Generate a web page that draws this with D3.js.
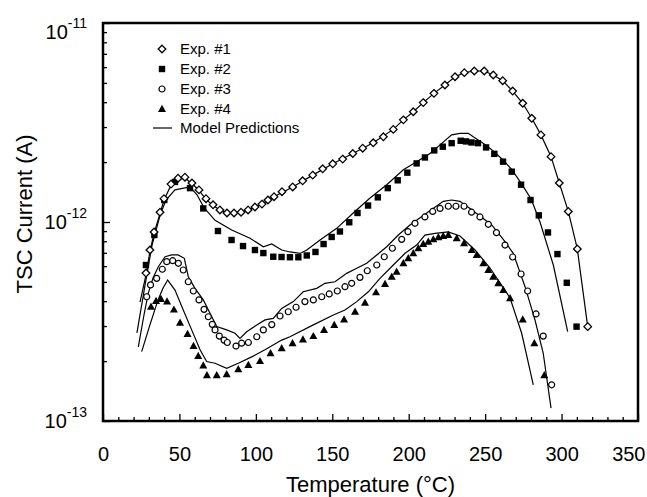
<!DOCTYPE html>
<html><head><meta charset="utf-8">
<script src="https://cdn.jsdelivr.net/npm/d3@7"></script>
<style>
body{margin:0;background:#fff}
svg{display:block}
text{font-family:"Liberation Sans",Arial,Helvetica,sans-serif;fill:#000}
</style>
</head><body>
<svg id="chart" width="647" height="497"></svg>
<script>
// ---- DATA (temperature in °C, current in pA = 1e-12 A) ----
const exp1T = [28.1,30.7,33.4,37.3,39.9,44.5,49.1,53.6,58.2,62.8,67.4,72.0,76.5,81.1,85.7,90.3,94.9,99.4,104.0,107.9,111.9,117.1,124.1,130.6,137.2,143.7,150.3,156.8,163.4,169.9,176.8,183.4,189.9,196.5,203.0,209.5,216.5,223.7,230.3,236.4,242.9,249.4,255.3,261.5,268.0,274.6,280.5,286.5,293.1,298.5,304.4,310.3,317.1];
const exp1I = [0.554,0.723,0.891,1.12,1.31,1.55,1.66,1.68,1.57,1.45,1.31,1.22,1.15,1.11,1.11,1.12,1.15,1.19,1.23,1.29,1.34,1.42,1.50,1.61,1.72,1.85,1.96,2.07,2.21,2.35,2.50,2.68,2.92,3.26,3.58,3.98,4.43,4.88,5.37,5.63,5.74,5.74,5.48,5.13,4.55,3.95,3.32,2.74,2.13,1.57,1.13,0.732,0.298];

const model1T = [24.2,28.1,30.7,33.4,37.3,39.9,44.5,49.1,53.6,58.2,62.8,67.4,72.0,76.5,81.1,85.7,90.3,94.9,99.4,104.0,111.9,124.1,137.2,150.3,163.4,176.8,189.9,196.5,203.0,209.5,216.5,223.7,230.3,236.4,242.9,249.4,255.3,261.5,268.0,274.6,280.5,286.5,293.1,298.5,304.4,310.3,317.1];
const model1I = [0.396,0.54,0.71,0.88,1.10,1.29,1.53,1.64,1.66,1.56,1.44,1.30,1.21,1.15,1.11,1.11,1.12,1.15,1.19,1.23,1.34,1.50,1.72,1.96,2.21,2.50,2.92,3.26,3.58,3.98,4.43,4.88,5.37,5.63,5.74,5.74,5.48,5.13,4.55,3.95,3.32,2.74,2.13,1.57,1.13,0.732,0.298];

const exp2T = [28.1,33.6,40.1,47.1,56.9,65.6,75.2,84.1,91.6,99.4,104.9,111.4,116.8,122.3,127.8,133.3,139.0,144.3,149.6,155.0,161.1,166.5,173.4,179.8,186.3,192.8,199.1,205.2,210.6,216.7,222.3,228.1,234.0,237.5,241.1,245.3,250.6,256.0,261.7,267.4,273.5,279.7,285.1,291.1,297.3,303.4,309.8];
const exp2I = [0.608,0.860,1.29,1.59,1.48,1.17,0.901,0.812,0.757,0.723,0.698,0.669,0.667,0.665,0.665,0.679,0.707,0.775,0.841,0.896,0.997,1.11,1.21,1.33,1.48,1.62,1.77,1.97,2.11,2.29,2.39,2.49,2.56,2.54,2.51,2.49,2.37,2.20,2.01,1.79,1.54,1.29,1.08,0.886,0.690,0.495,0.298];

const model2T = [22.2,27.5,32.1,37.3,41.2,47.1,56.9,61.5,66.1,73.3,84.2,96.2,104.9,110.4,116.9,122.3,128.9,133.3,142.0,152.9,163.7,174.7,185.6,196.5,205.2,213.9,220.5,228.1,233.5,239.0,242.2,250.4,256.0,261.7,267.6,273.9,280.0,285.9,294.6,304.0];
const model2I = [0.277,0.482,0.766,1.08,1.29,1.45,1.50,1.37,1.18,1.02,0.912,0.828,0.751,0.775,0.723,0.707,0.695,0.723,0.812,0.929,1.11,1.32,1.54,1.83,2.01,2.21,2.44,2.74,2.79,2.79,2.68,2.44,2.25,2.05,1.83,1.55,1.31,1.00,0.608,0.281];

const exp3T = [28.6,31.1,35.1,38.8,41.7,45.6,49.3,52.5,55.8,59.1,62.8,66.1,68.9,71.5,73.3,76.1,79.2,81.3,87.0,90.7,95.1,100.6,104.9,110.4,115.8,121.2,126.3,132.1,137.6,143.1,148.0,153.3,158.3,162.7,168.1,172.9,179.1,184.0,189.3,195.4,199.5,204.1,210.6,215.7,220.5,225.9,230.9,236.2,241.1,246.6,252.1,257.4,263.0,268.0,273.5,277.8,283.3,288.0,293.5];
const exp3I = [0.421,0.483,0.521,0.579,0.632,0.639,0.620,0.574,0.501,0.450,0.406,0.364,0.334,0.306,0.287,0.267,0.255,0.248,0.238,0.246,0.248,0.265,0.287,0.305,0.337,0.354,0.373,0.398,0.406,0.421,0.435,0.450,0.473,0.492,0.527,0.569,0.608,0.669,0.738,0.818,0.894,0.985,1.06,1.13,1.17,1.20,1.20,1.20,1.12,1.06,0.974,0.884,0.766,0.667,0.548,0.450,0.345,0.267,0.152];

const model3T = [23.1,26.8,29.6,32.7,36.2,40.6,44.9,49.1,53.2,55.8,60.2,65.6,70.0,74.4,80.9,86.4,89.6,94.0,100.6,106.0,111.4,116.9,124.5,131.0,139.8,145.2,151.8,159.4,166.0,172.5,179.1,185.6,193.2,200.8,211.8,222.6,228.1,233.5,240.1,254.3,263.0,268.4,276.1,282.6,288.0,293.1];
const model3I = [0.236,0.341,0.438,0.523,0.596,0.669,0.683,0.683,0.657,0.531,0.464,0.406,0.348,0.298,0.287,0.276,0.260,0.281,0.304,0.322,0.328,0.368,0.398,0.446,0.464,0.492,0.501,0.552,0.585,0.620,0.683,0.751,0.860,0.966,1.11,1.27,1.29,1.27,1.17,0.966,0.796,0.696,0.473,0.322,0.219,0.116];

const exp4T = [31.4,34.7,37.9,41.9,46.4,50.4,55.3,59.2,62.3,65.6,68.0,74.4,80.9,88.5,95.1,102.7,109.6,116.9,124.0,130.8,137.6,144.6,151.3,157.7,164.9,171.4,178.6,184.5,188.9,192.1,196.5,199.7,203.0,206.3,209.5,212.8,216.1,219.4,222.6,225.9,231.4,236.2,241.2,244.5,248.8,252.1,255.3,258.6,261.9,266.3,274.6,282.2,288.7];
const exp4I = [0.375,0.401,0.410,0.399,0.363,0.312,0.274,0.238,0.212,0.190,0.170,0.170,0.172,0.182,0.191,0.200,0.219,0.232,0.246,0.257,0.267,0.287,0.304,0.324,0.354,0.393,0.443,0.488,0.531,0.563,0.620,0.657,0.696,0.738,0.775,0.796,0.818,0.838,0.851,0.860,0.828,0.782,0.723,0.683,0.620,0.574,0.531,0.492,0.455,0.414,0.324,0.246,0.170];

const model4T = [25.3,30.7,36.0,39.3,42.3,47.1,52.5,58.0,63.5,67.8,73.3,80.9,88.5,97.3,106.0,116.9,122.3,137.6,150.7,158.3,166.0,173.6,181.2,189.9,197.6,205.2,210.6,217.2,225.9,233.5,243.4,253.2,266.3,273.9,281.5];
const model4I = [0.223,0.304,0.406,0.466,0.511,0.455,0.361,0.287,0.228,0.199,0.195,0.184,0.195,0.210,0.228,0.255,0.265,0.304,0.341,0.361,0.398,0.446,0.521,0.608,0.696,0.766,0.860,0.877,0.891,0.851,0.723,0.587,0.415,0.276,0.152];

const xTicks = [0,50,100,150,200,250,300,350];
const yTicks = [0.1,1,10];              // pA
const yTickExponents = ["-13","-12","-11"];
const legendLabels = ["Exp. #1","Exp. #2","Exp. #3","Exp. #4","Model Predictions"];
const xTitle = "Temperature (\u00B0C)";
const yTitle = "TSC Current (A)";

// ---- CHART ----
const svg = d3.select("#chart");
const x = d3.scaleLinear().domain([0,350]).range([103,638]);
const y = d3.scaleLog().domain([0.1,10]).range([421,23]);

const zip = (T,I) => T.map((t,i)=>[t,I[i]]);
const series = [
  {pts: zip(exp1T,exp1I), model: zip(model1T,model1I), sym:"diamond"},
  {pts: zip(exp2T,exp2I), model: zip(model2T,model2I), sym:"square"},
  {pts: zip(exp3T,exp3I), model: zip(model3T,model3I), sym:"circle"},
  {pts: zip(exp4T,exp4I), model: zip(model4T,model4I), sym:"triangle"}
];

// minor ticks
const xMinor = d3.range(0,351,10).filter(v=>v%50!==0);
const yMinor = [];
[0.1,1].forEach(d=>{for(let m=2;m<=9;m++) yMinor.push(d*m);});

const gx = svg.append("g").attr("transform","translate(0,421)");
gx.call(d3.axisBottom(x).tickValues(xMinor).tickSize(-4).tickFormat(""));
const gxMaj = svg.append("g").attr("transform","translate(0,421)")
  .call(d3.axisBottom(x).tickValues(xTicks).tickSize(-7).tickSizeOuter(0).tickPadding(26).tickFormat(d3.format("d")));
gxMaj.selectAll("text").style("font-size","20px");
gxMaj.selectAll(".tick").filter(d=>d===350).select("text").attr("text-anchor","end").attr("x",7);

const gy = svg.append("g").attr("transform","translate(103,0)");
gy.call(d3.axisLeft(y).tickValues(yMinor).tickSize(-4).tickFormat(""));
const gyMaj = svg.append("g").attr("transform","translate(103,0)")
  .call(d3.axisLeft(y).tickValues(yTicks).tickSize(-7).tickSizeOuter(0).tickFormat(""));
[gx,gxMaj,gy,gyMaj].forEach(g=>{g.select(".domain").remove(); g.selectAll("line").attr("stroke","#000").attr("stroke-width",1.3);});

// y tick labels 10^n
yTicks.forEach((v,i)=>{
  const off = (v===10) ? 9 : 0;
  const t = svg.append("text").attr("x",87).attr("y",y(v)+7+off).attr("text-anchor","end");
  t.append("tspan").style("font-size","20px").text("10");
  t.append("tspan").style("font-size","14px").attr("dy",-11).text(yTickExponents[i]);
});

// frame
svg.append("rect").attr("x",x(0)).attr("y",y(10)).attr("width",x(350)-x(0)).attr("height",y(0.1)-y(10))
  .attr("fill","none").attr("stroke","#000").attr("stroke-width",2.5);

// titles
svg.append("text").attr("x",(x(0)+x(350))/2).attr("y",492).attr("text-anchor","middle").style("font-size","22px").text(xTitle);
svg.append("text").attr("transform","translate(32,214) rotate(-90)").attr("text-anchor","middle").style("font-size","22px").text(yTitle);

// model lines
const line = d3.line().x(d=>x(d[0])).y(d=>y(d[1]));
series.forEach(s=>{
  svg.append("path").attr("d",line(s.model)).attr("fill","none").attr("stroke","#000").attr("stroke-width",1.2);
});

// markers
function marker(g, sym){
  if(sym==="diamond") g.append("path").attr("d","M0,-3.8L3.8,0L0,3.8L-3.8,0Z").attr("fill","#fff").attr("stroke","#000").attr("stroke-width",1.3);
  else if(sym==="square") g.append("rect").attr("x",-3.2).attr("y",-3.2).attr("width",6.4).attr("height",6.4).attr("fill","#000");
  else if(sym==="circle") g.append("circle").attr("r",3).attr("fill","#fff").attr("stroke","#000").attr("stroke-width",1.2);
  else if(sym==="triangle") g.append("path").attr("d","M0,-4.2L4,3L-4,3Z").attr("fill","#000");
}
[3,2,1,0].forEach(k=>{
  const s = series[k];
  s.pts.forEach(p=>{
    const g = svg.append("g").attr("transform",`translate(${x(p[0])},${y(p[1])})`);
    marker(g, s.sym);
  });
});

// legend
const legY = [49,69,89,109,128];
const syms = ["diamond","square","circle","triangle"];
legendLabels.forEach((lab,i)=>{
  if(i<4){
    const g = svg.append("g").attr("transform",`translate(162,${legY[i]})`);
    marker(g, syms[i]);
  } else {
    svg.append("line").attr("x1",153).attr("x2",172).attr("y1",legY[i]).attr("y2",legY[i]).attr("stroke","#000").attr("stroke-width",1.2);
  }
  svg.append("text").attr("x",180).attr("y",legY[i]+5).style("font-size","15px").text(lab);
});
</script>
</body></html>
